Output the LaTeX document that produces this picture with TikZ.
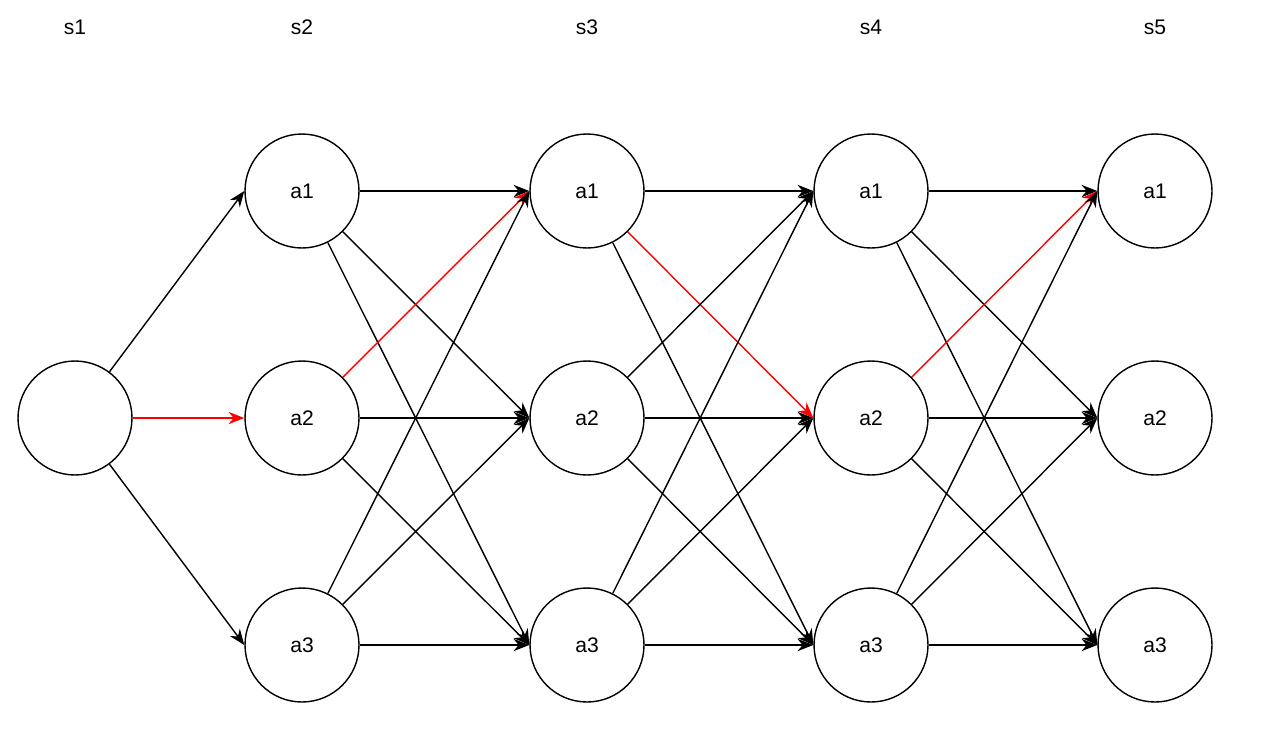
\documentclass[tikz,border=0pt]{standalone}
\usepackage{fontspec}
\setmainfont{Liberation Sans}
\usetikzlibrary{arrows.meta}

\begin{document}
\begin{tikzpicture}[x=0.02cm,y=-0.02cm,
    state/.style={circle,draw,line width=0.8pt,minimum size=2.28cm,inner sep=0pt,font=\fontsize{12}{14}\selectfont},
    stage/.style={font=\fontsize{12}{14}\selectfont},
    edge/.style={line width=0.8pt,-{Stealth[length=9pt,width=7pt]}}]
  \useasboundingbox (0,0) rectangle (1270,741);
  % stage labels
  \node[stage] (lbl1) at (75,27) {s1};
  \node[stage] (lbl2) at (302,27) {s2};
  \node[stage] (lbl3) at (587,27) {s3};
  \node[stage] (lbl4) at (871,27) {s4};
  \node[stage] (lbl5) at (1155,27) {s5};
  % start state
  \node[state] (s1) at (75,418) {};
  % action states
  \foreach \s/\x in {2/302,3/587,4/871,5/1155}
    \foreach \i/\y in {1/191,2/418,3/645}
      \node[state] (s\s a\i) at (\x,\y) {a\i};
  % first step
  \draw[edge] (s1) -- (s2a1.west);
  \draw[edge,red] (s1) -- (s2a2.west);
  \draw[edge] (s1) -- (s2a3.west);
  % all transitions, best path in red
  \foreach \a/\b in {2/3,3/4,4/5}
    \foreach \i in {1,2,3}
      \foreach \j in {1,2,3}{
        \pgfmathtruncatemacro\hot{(\a==2&&\i==2&&\j==1)||(\a==3&&\i==1&&\j==2)||(\a==4&&\i==2&&\j==1)}
        \ifnum\hot=1 \def\col{red}\else\def\col{black}\fi
        \draw[edge,\col] (s\a a\i) -- (s\b a\j.west);
      }
\end{tikzpicture}
\end{document}
